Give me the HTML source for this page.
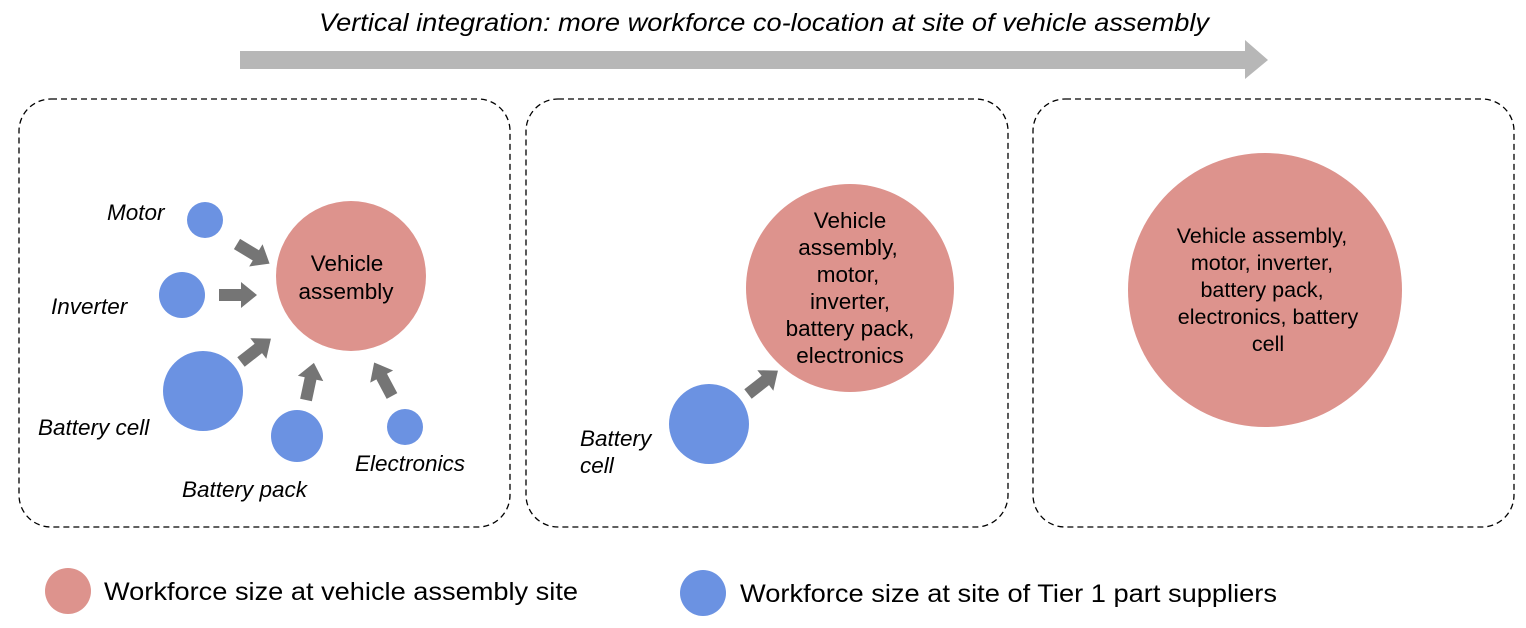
<!DOCTYPE html>
<html><head><meta charset="utf-8"><style>
html,body{margin:0;padding:0;background:#fff;}
svg{display:block;}
text{font-family:"Liberation Sans",Arial,sans-serif;fill:#000;}
</style></head><body>
<svg width="1526" height="628" viewBox="0 0 1526 628" xmlns="http://www.w3.org/2000/svg">
<defs>
<path id="ar" d="M0,-6 L22,-6 L22,-13 L38,0 L22,13 L22,6 L0,6 Z" fill="#757575"/>
</defs>
<text x="764" y="31" text-anchor="middle" font-size="25" font-style="italic" textLength="890" lengthAdjust="spacingAndGlyphs">Vertical integration: more workforce co-location at site of vehicle assembly</text>
<polygon points="240,51 1245,51 1245,40 1268,60 1245,79 1245,69 240,69" fill="#b7b7b7"/>
<g fill="none" stroke="#000" stroke-width="1.3" stroke-dasharray="6,4">
<rect x="19" y="99" width="491" height="428" rx="32"/>
<rect x="526" y="99" width="482" height="428" rx="32"/>
<rect x="1033" y="99" width="481" height="428" rx="32"/>
</g>
<!-- panel 1 -->
<circle cx="351" cy="276" r="75" fill="#dd938d"/>
<circle cx="205" cy="220" r="18" fill="#6b92e2"/>
<circle cx="182" cy="295" r="23" fill="#6b92e2"/>
<circle cx="203" cy="391" r="40" fill="#6b92e2"/>
<circle cx="297" cy="436" r="26" fill="#6b92e2"/>
<circle cx="405" cy="427" r="18" fill="#6b92e2"/>
<use href="#ar" transform="translate(237,244) rotate(31)"/>
<use href="#ar" transform="translate(219,295)"/>
<use href="#ar" transform="translate(241,362) rotate(-38)"/>
<use href="#ar" transform="translate(306,400) rotate(-78)"/>
<use href="#ar" transform="translate(392,396) rotate(-118)"/>
<g font-size="22.5" text-anchor="middle">
<text x="347" y="271">Vehicle</text>
<text x="346" y="299">assembly</text>
</g>
<g font-style="italic" font-size="22.5">
<text x="107" y="220">Motor</text>
<text x="51" y="314">Inverter</text>
<text x="38" y="435">Battery cell</text>
<text x="182" y="497">Battery pack</text>
<text x="355" y="471">Electronics</text>
<text x="580" y="446">Battery</text>
<text x="580" y="473">cell</text>
</g>
<!-- panel 2 -->
<circle cx="850" cy="288" r="104" fill="#dd938d"/>
<circle cx="709" cy="424" r="40" fill="#6b92e2"/>
<use href="#ar" transform="translate(748,394) rotate(-38)"/>
<g font-size="22.5" text-anchor="middle">
<text x="850" y="228">Vehicle</text>
<text x="848" y="255">assembly,</text>
<text x="848" y="282">motor,</text>
<text x="850" y="309">inverter,</text>
<text x="850" y="336">battery pack,</text>
<text x="850" y="363">electronics</text>
</g>
<!-- panel 3 -->
<circle cx="1265" cy="290" r="137" fill="#dd938d"/>
<g font-size="21.5" text-anchor="middle">
<text x="1262" y="243">Vehicle assembly,</text>
<text x="1262" y="270">motor, inverter,</text>
<text x="1262" y="297">battery pack,</text>
<text x="1268" y="324">electronics, battery</text>
<text x="1268" y="351">cell</text>
</g>
<!-- legend -->
<circle cx="68" cy="591" r="23" fill="#dd938d"/>
<text x="104" y="600" font-size="25" textLength="474" lengthAdjust="spacingAndGlyphs">Workforce size at vehicle assembly site</text>
<circle cx="703" cy="593" r="23" fill="#6b92e2"/>
<text x="740" y="602" font-size="25" textLength="537" lengthAdjust="spacingAndGlyphs">Workforce size at site of Tier 1 part suppliers</text>
</svg>
</body></html>
